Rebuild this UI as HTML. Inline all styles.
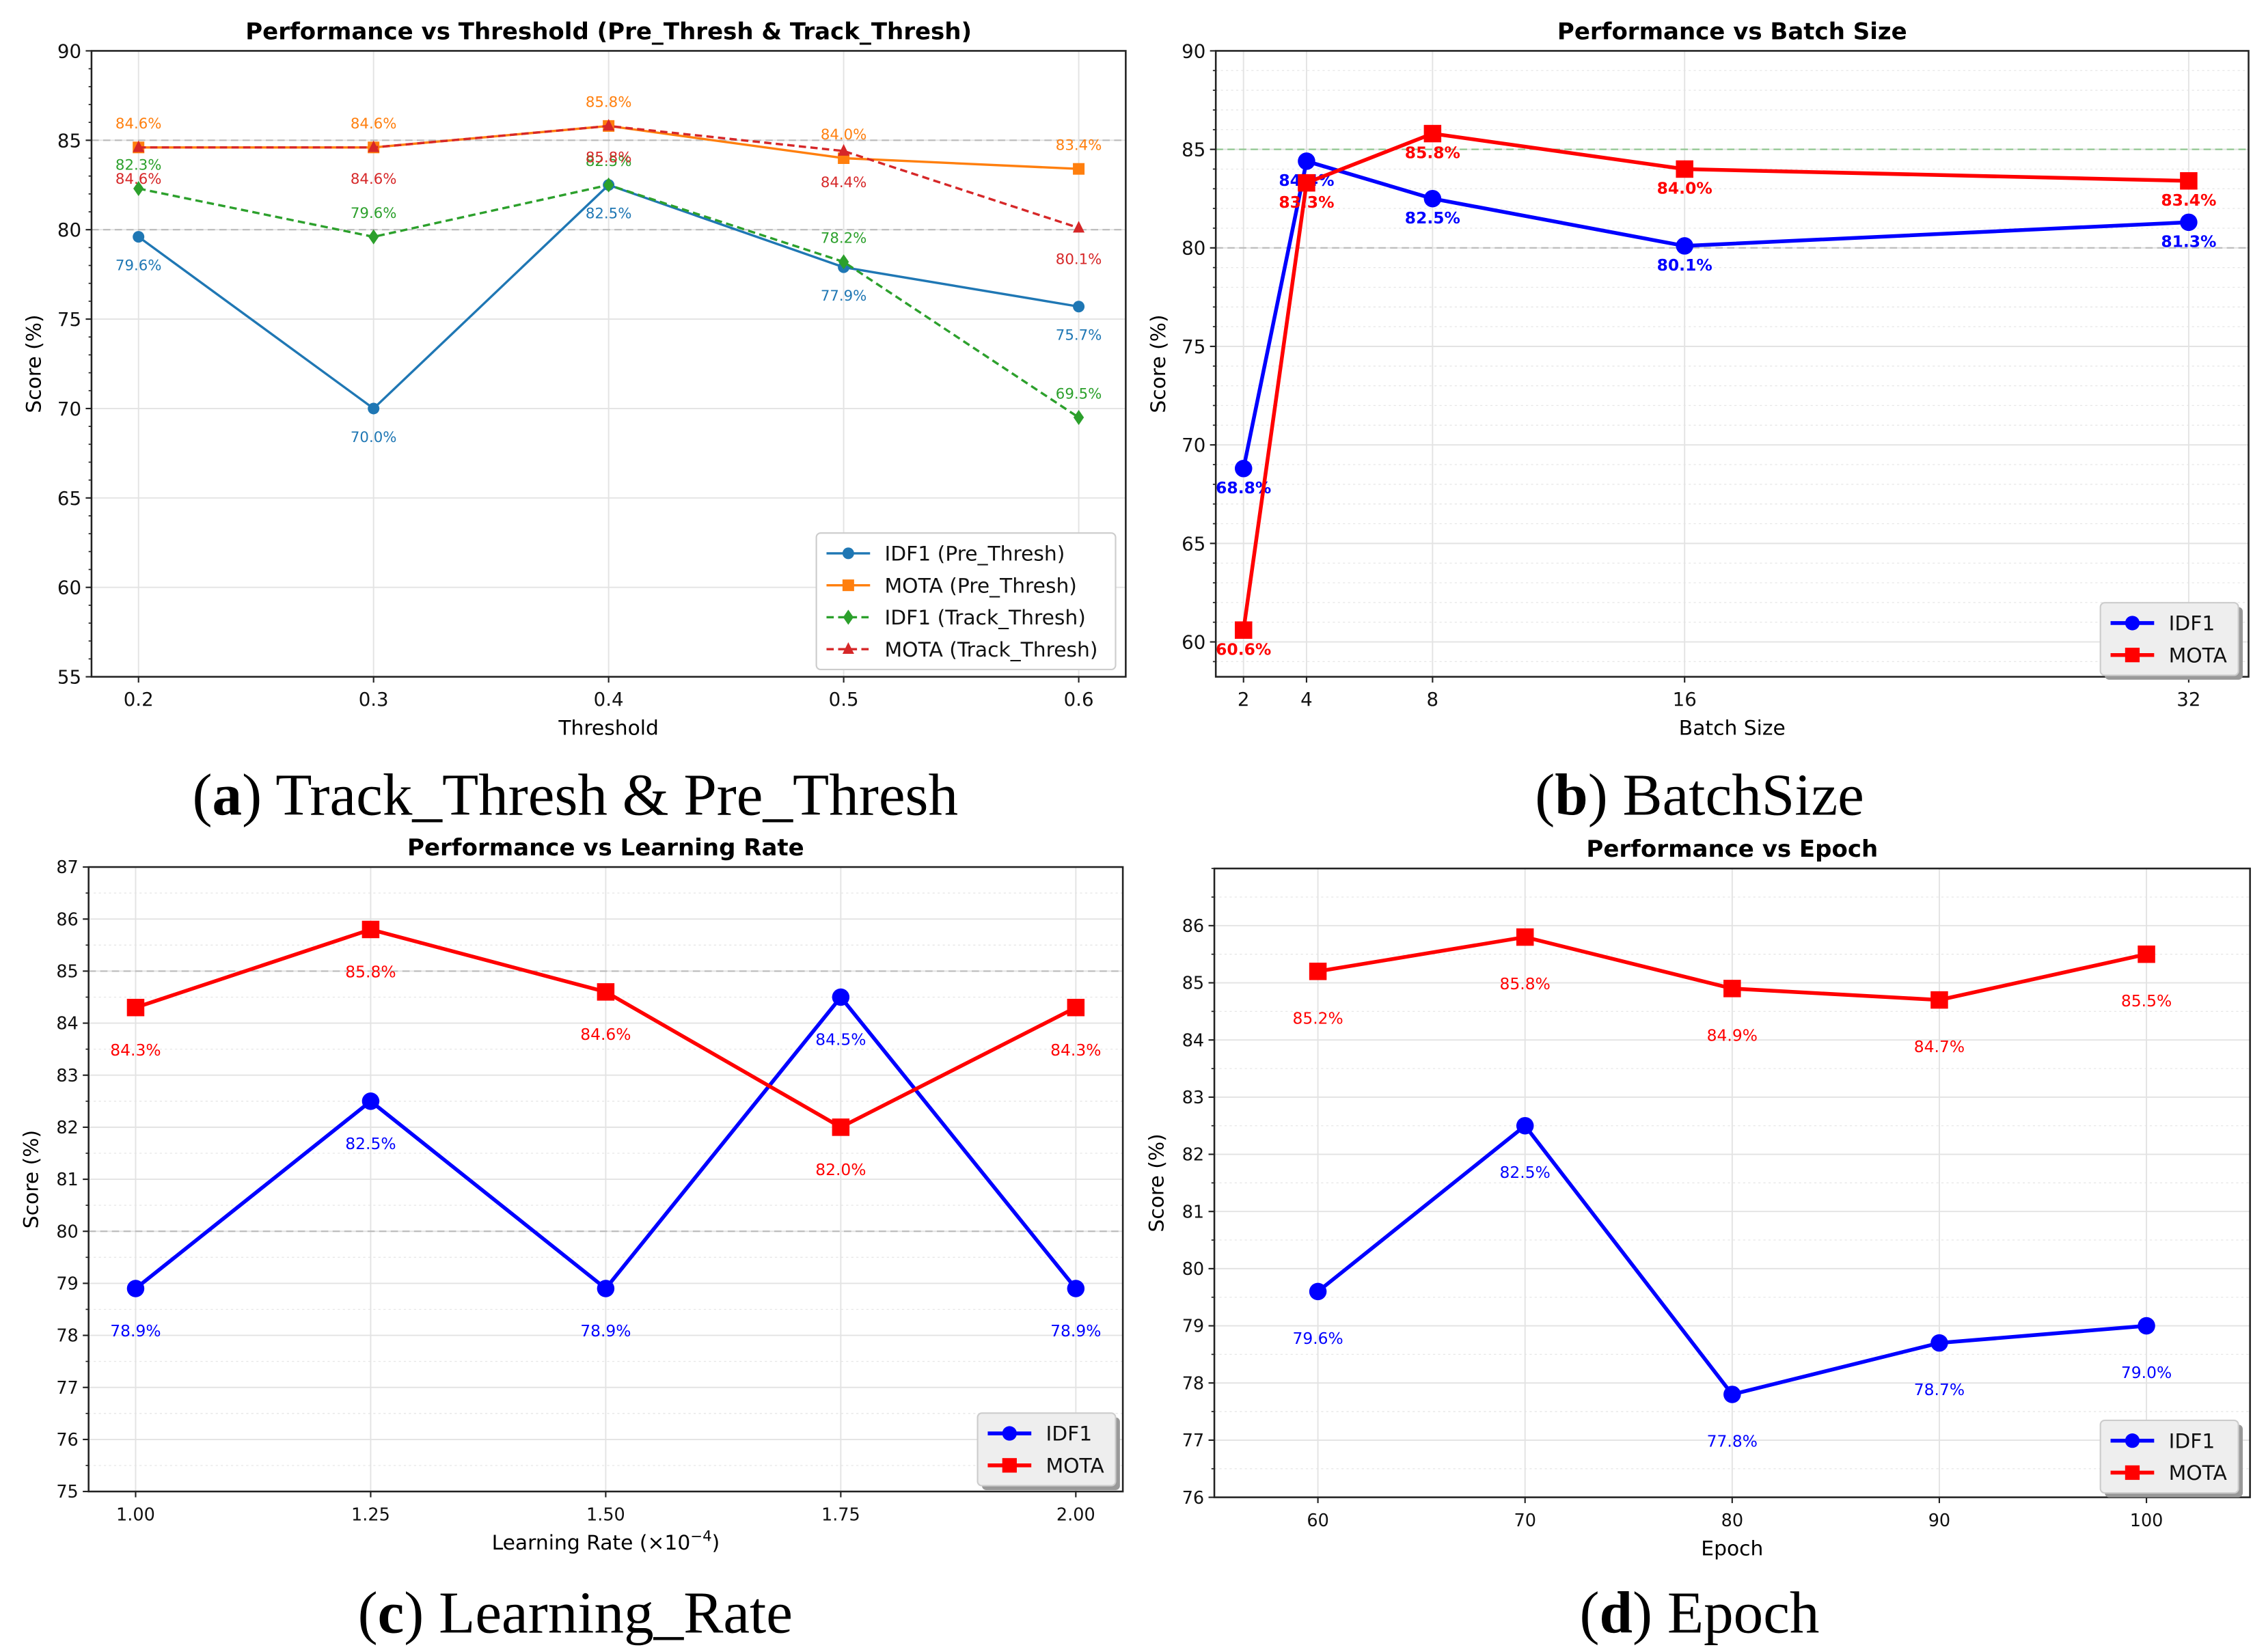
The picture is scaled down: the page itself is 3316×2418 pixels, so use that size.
<!DOCTYPE html>
<html><head><meta charset="utf-8"><style>
html,body{margin:0;padding:0;background:#fff}
svg{display:block}
text{font-family:"DejaVu Sans","Liberation Sans",sans-serif}
.cap{font-family:"Liberation Serif",serif}
</style></head><body>
<svg id="fig" width="3316" height="2418" viewBox="0 0 1560 1137.5" xmlns="http://www.w3.org/2000/svg"></svg>
<script>
// Panel A data
const aX = [0.2, 0.3, 0.4, 0.5, 0.6];
const aIdf1Pre = [79.6, 70.0, 82.5, 77.9, 75.7];
const aMotaPre = [84.6, 84.6, 85.8, 84.0, 83.4];
const aIdf1Track = [82.3, 79.6, 82.5, 78.2, 69.5];
const aMotaTrack = [84.6, 84.6, 85.8, 84.4, 80.1];
const aYTicks = [55, 60, 65, 70, 75, 80, 85, 90];
const aXTickLabels = ["0.2", "0.3", "0.4", "0.5", "0.6"];
// Panel B data
const bX = [2, 4, 8, 16, 32];
const bIdf1 = [68.8, 84.4, 82.5, 80.1, 81.3];
const bMota = [60.6, 83.3, 85.8, 84.0, 83.4];
const bYTicks = [60, 65, 70, 75, 80, 85, 90];
// Panel C data
const cX = [1.00, 1.25, 1.50, 1.75, 2.00];
const cIdf1 = [78.9, 82.5, 78.9, 84.5, 78.9];
const cMota = [84.3, 85.8, 84.6, 82.0, 84.3];
const cYTicks = [75, 76, 77, 78, 79, 80, 81, 82, 83, 84, 85, 86, 87];
const cXTickLabels = ["1.00", "1.25", "1.50", "1.75", "2.00"];
// Panel D data
const dX = [60, 70, 80, 90, 100];
const dIdf1 = [79.6, 82.5, 77.8, 78.7, 79.0];
const dMota = [85.2, 85.8, 84.9, 84.7, 85.5];
const dYTicks = [76, 77, 78, 79, 80, 81, 82, 83, 84, 85, 86];

const NS = "http://www.w3.org/2000/svg";
const fig = document.getElementById("fig");
function mk(tag, attrs, parent, txt) {
  const e = document.createElementNS(NS, tag);
  for (const k in attrs) e.setAttribute(k, attrs[k]);
  if (txt !== undefined) e.textContent = txt;
  (parent || fig).appendChild(e);
  return e;
}
function axes(name, box, xd, yd) {
  const g = mk("g", {});
  
  
  const sx = v => box.l + (v - xd[0]) / (xd[1] - xd[0]) * (box.r - box.l);
  const sy = v => box.b - (v - yd[0]) / (yd[1] - yd[0]) * (box.b - box.t);
  return {g, sx, sy, box};
}
function marker(g, shape, x, y, r, color) {
  let e;
  if (shape === "circle") e = mk("circle", {cx: x, cy: y, r: r, fill: color}, g);
  else if (shape === "square") e = mk("rect", {x: x - r, y: y - r, width: 2 * r, height: 2 * r, fill: color}, g);
  else if (shape === "diamond") e = mk("polygon", {points: `${x},${y - r * 1.3} ${x + r * 0.9},${y} ${x},${y + r * 1.3} ${x - r * 0.9},${y}`, fill: color}, g);
  else e = mk("polygon", {points: `${x},${y - r * 1.2} ${x + r},${y + r * 0.8} ${x - r},${y + r * 0.8}`, fill: color}, g);
  return e;
}
function series(A, name, xs, ys, color, shape, lw, dash, r, lblDy, lblSize, bold) {
  const g = mk("g", {}, A.g);
  
  
  const pts = xs.map((x, i) => A.sx(x) + "," + A.sy(ys[i])).join(" ");
  const pl = mk("polyline", {points: pts, fill: "none", stroke: color, "stroke-width": lw, "stroke-dasharray": dash || "none", "stroke-linejoin": "round"}, g);
  
  
  xs.forEach((x, i) => {
    const m = marker(g, shape, A.sx(x), A.sy(ys[i]), r, color);
    
    
    const t = mk("text", {x: A.sx(x), y: A.sy(ys[i]) + lblDy, "text-anchor": "middle", fill: color, "font-size": lblSize, "font-weight": bold ? "bold" : "normal"}, g, ys[i].toFixed(1) + "%");
    
    
  });
}
function frame(A, title, xlabel, yTicks, xTicks, xLabels, minor, minorGrid, refLines, tickSize) {
  const b = A.box, g = A.g;
  if (minorGrid) minor.forEach(v => mk("line", {x1: b.l, x2: b.r, y1: A.sy(v), y2: A.sy(v), stroke: "#e6e6e6", "stroke-width": 0.6, "stroke-dasharray": "1.5,2"}, g));
  yTicks.forEach(v => mk("line", {x1: b.l, x2: b.r, y1: A.sy(v), y2: A.sy(v), stroke: "#e3e3e3", "stroke-width": 0.9}, g));
  xTicks.forEach(v => mk("line", {x1: A.sx(v), x2: A.sx(v), y1: b.t, y2: b.b, stroke: "#e3e3e3", "stroke-width": 0.9}, g));
  refLines.forEach(([v, c]) => {
    const l = mk("line", {x1: b.l, x2: b.r, y1: A.sy(v), y2: A.sy(v), stroke: c, "stroke-width": 1, "stroke-dasharray": "5,3"}, g);
    
    
  });
  mk("rect", {x: b.l, y: b.t, width: b.r - b.l, height: b.b - b.t, fill: "none", stroke: "#222", "stroke-width": 1.2}, g);
  yTicks.forEach(v => {
    mk("line", {x1: b.l - 4, x2: b.l, y1: A.sy(v), y2: A.sy(v), stroke: "#222", "stroke-width": 1}, g);
    const t = mk("text", {x: b.l - 7, y: A.sy(v) + tickSize * 0.36, "text-anchor": "end", "font-size": tickSize, fill: "#111"}, g, String(v));
    
    
  });
  minor.forEach(v => mk("line", {x1: b.l - 2, x2: b.l, y1: A.sy(v), y2: A.sy(v), stroke: "#222", "stroke-width": 0.8}, g));
  xTicks.forEach((v, i) => {
    mk("line", {x1: A.sx(v), x2: A.sx(v), y1: b.b, y2: b.b + 4, stroke: "#222", "stroke-width": 1}, g);
    const t = mk("text", {x: A.sx(v), y: b.b + 20, "text-anchor": "middle", "font-size": tickSize, fill: "#111"}, g, xLabels[i]);
    
    
  });
  const tt = mk("text", {x: (b.l + b.r) / 2, y: b.t - 8, "text-anchor": "middle", "font-size": 16, "font-weight": "bold"}, g, title);
  
  
  const xl = mk("text", {x: (b.l + b.r) / 2, y: b.b + 40, "text-anchor": "middle", "font-size": 14}, g, xlabel);
  
  
  const cy = (b.t + b.b) / 2, cx = b.l - 35;
  const yl = mk("text", {x: cx, y: cy, "text-anchor": "middle", "font-size": 14, transform: `rotate(-90 ${cx} ${cy})`}, g, "Score (%)");
  
  
  return xl;
}
function legend(A, x, y, w, entries, shadow) {
  const g = mk("g", {}, A.g);
  
  
  const h = entries.length * 22 + 6;
  if (shadow) mk("rect", {x: x + 3, y: y + 3, width: w, height: h, rx: 3, fill: "#999"}, g);
  mk("rect", {x: x, y: y, width: w, height: h, rx: 3, fill: shadow ? "#eeeeee" : "#fff", stroke: "#ccc", "stroke-width": 1}, g);
  entries.forEach((en, i) => {
    const eg = mk("g", {}, g);
    
    
    const yy = y + 14 + i * 22;
    mk("line", {x1: x + 7, x2: x + 37, y1: yy, y2: yy, stroke: en.c, "stroke-width": en.lw, "stroke-dasharray": en.dash || "none"}, eg);
    marker(eg, en.s, x + 22, yy, en.r, en.c);
    mk("text", {x: x + 47, y: yy + 5, "font-size": 14, fill: "#111"}, eg, en.t);
  });
}
function minorRange(a, b, step) { const r = []; for (let v = a; v <= b + 1e-9; v += step) r.push(+v.toFixed(3)); return r; }

// Panel A
const A = axes("panel-a-threshold", {l: 63, r: 775, t: 35, b: 466}, [0.18, 0.62], [55, 90]);
frame(A, "Performance vs Threshold (Pre_Thresh & Track_Thresh)", "Threshold", aYTicks, aX, aXTickLabels, minorRange(55, 90, 1), false, [[85, "#bbb"], [80, "#bbb"]], 13);
series(A, "idf1-pre-thresh", aX, aIdf1Pre, "#1f77b4", "circle", 1.6, null, 4, 23, 10, false);
series(A, "mota-pre-thresh", aX, aMotaPre, "#ff7f0e", "square", 1.6, null, 4, -13, 10, false);
series(A, "idf1-track-thresh", aX, aIdf1Track, "#2ca02c", "diamond", 1.6, "5,3", 4, -13, 10, false);
series(A, "mota-track-thresh", aX, aMotaTrack, "#d62728", "triangle", 1.6, "5,3", 4, 25, 10, false);
legend(A, 562, 367, 206, [
  {t: "IDF1 (Pre_Thresh)", c: "#1f77b4", s: "circle", r: 4, lw: 1.6},
  {t: "MOTA (Pre_Thresh)", c: "#ff7f0e", s: "square", r: 4, lw: 1.6},
  {t: "IDF1 (Track_Thresh)", c: "#2ca02c", s: "diamond", r: 4, lw: 1.6, dash: "5,3"},
  {t: "MOTA (Track_Thresh)", c: "#d62728", s: "triangle", r: 4, lw: 1.6, dash: "5,3"}], false);

// Panel B
const B = axes("panel-b-batch-size", {l: 837, r: 1548, t: 35, b: 466}, [1.12, 33.9], [58.23, 90]);
frame(B, "Performance vs Batch Size", "Batch Size", bYTicks, bX, bX.map(String), minorRange(59, 90, 1), true, [[85, "#8cc48c"], [80, "#bbb"]], 13);
series(B, "idf1-batch", bX, bIdf1, "#0000ff", "circle", 2.6, null, 6, 17, 11, true);
series(B, "mota-batch", bX, bMota, "#ff0000", "square", 2.6, null, 6, 17, 11, true);
legend(B, 1446, 415, 95, [
  {t: "IDF1", c: "#0000ff", s: "circle", r: 5, lw: 2.6},
  {t: "MOTA", c: "#ff0000", s: "square", r: 5, lw: 2.6}], true);

// Panel C
const C = axes("panel-c-learning-rate", {l: 61, r: 773, t: 597, b: 1027}, [0.95, 2.05], [75, 87]);
frame(C, "Performance vs Learning Rate", "", cYTicks, cX, cXTickLabels, minorRange(75, 87, 0.5), true, [[85, "#bbb"], [80, "#bbb"]], 12);
const cxl = mk("text", {x: 417, y: 1067, "text-anchor": "middle", "font-size": 14}, C.g);


mk("tspan", {}, cxl, "Learning Rate (×10");
mk("tspan", {dy: -6, "font-size": 10}, cxl, "−4");
mk("tspan", {dy: 6}, cxl, ")");
series(C, "idf1-lr", cX, cIdf1, "#0000ff", "circle", 2.6, null, 6, 33, 11, false);
series(C, "mota-lr", cX, cMota, "#ff0000", "square", 2.6, null, 6, 33, 11, false);
legend(C, 673, 973, 95, [
  {t: "IDF1", c: "#0000ff", s: "circle", r: 5, lw: 2.6},
  {t: "MOTA", c: "#ff0000", s: "square", r: 5, lw: 2.6}], true);

// Panel D
const D = axes("panel-d-epoch", {l: 836, r: 1549, t: 598, b: 1031}, [55, 105], [76, 87]);
frame(D, "Performance vs Epoch", "Epoch", dYTicks, dX, dX.map(String), minorRange(76, 87, 0.5), true, [], 12);
series(D, "idf1-epoch", dX, dIdf1, "#0000ff", "circle", 2.6, null, 6, 36, 11, false);
series(D, "mota-epoch", dX, dMota, "#ff0000", "square", 2.6, null, 6, 36, 11, false);
legend(D, 1446, 978, 95, [
  {t: "IDF1", c: "#0000ff", s: "circle", r: 5, lw: 2.6},
  {t: "MOTA", c: "#ff0000", s: "square", r: 5, lw: 2.6}], true);

// Captions
[["(a)", " Track_Thresh & Pre_Thresh", 396, 561], ["(b)", " BatchSize", 1170, 561], ["(c)", " Learning_Rate", 396, 1124], ["(d)", " Epoch", 1170, 1124]].forEach(c => {
  const t = mk("text", {x: c[2], y: c[3], "text-anchor": "middle", "font-size": 41, class: "cap"});
  
  
  mk("tspan", {}, t, "(");
  mk("tspan", {"font-weight": "bold"}, t, c[0].slice(1, 2));
  mk("tspan", {}, t, ")" + c[1]);
});
</script>
</body></html>
